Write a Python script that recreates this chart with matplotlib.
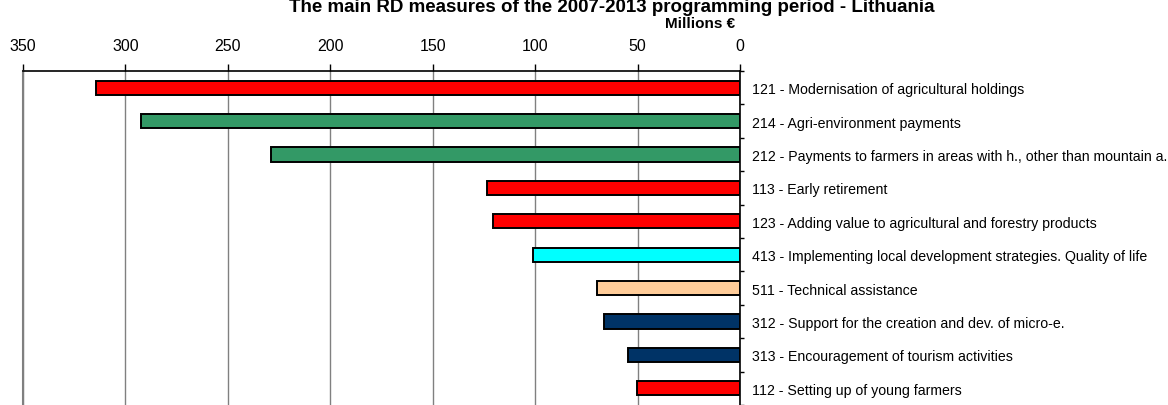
import matplotlib.pyplot as plt
import numpy as np

plt.rcParams['font.family'] = ['Liberation Sans', 'DejaVu Sans']

# measures, top to bottom
measures = [
    '121 - Modernisation of agricultural holdings',
    '214 - Agri-environment payments',
    '212 - Payments to farmers in areas with h., other than mountain a.',
    '113 - Early retirement',
    '123 - Adding value to agricultural and forestry products',
    '413 - Implementing local development strategies. Quality of life',
    '511 - Technical assistance',
    '312 - Support for the creation and dev. of micro-e.',
    '313 - Encouragement of tourism activities',
    '112 - Setting up of young farmers',
]
amounts = [314.3, 292.2, 229.0, 123.5, 120.7, 100.9, 69.9, 66.5, 54.8, 50.4]
bar_colors = ['#FF0000', '#339966', '#339966', '#FF0000', '#FF0000',
              '#00FFFF', '#FFCC99', '#003366', '#003366', '#FF0000']

fig = plt.figure(figsize=(11.68, 4.06), dpi=100)
ax = fig.add_axes([23 / 1168, 0, 717 / 1168, 334 / 406])

y = np.arange(len(measures))
ax.barh(y, amounts, height=0.43, color=bar_colors, edgecolor='black',
        linewidth=1.4, zorder=3)

# reversed x axis, values grow to the left
ax.set_xlim(350, 0)
ax.set_ylim(9.41, -0.5)

ax.xaxis.tick_top()
ax.set_xticks(np.arange(0, 351, 50))
ax.tick_params(axis='x', direction='out', length=5, width=1, pad=8,
               labelsize=11.5)
ax.grid(axis='x', color='#808080', linewidth=1, zorder=0)

# labels on the right, tick marks at category boundaries
ax.yaxis.tick_right()
ax.set_yticks(y)
ax.set_yticklabels(measures)
ax.tick_params(axis='y', which='major', length=0, pad=9, labelsize=10.2)
ax.set_yticks(np.arange(-0.5, 10, 1), minor=True)
ax.tick_params(axis='y', which='minor', length=3, width=1, direction='out')

ax.spines['bottom'].set_visible(False)
ax.spines['left'].set_color('#808080')
ax.spines['left'].set_linewidth(1.5)
ax.spines['top'].set_linewidth(1.2)
ax.spines['right'].set_linewidth(1.2)

fig.text(612 / 1168, 1 - 7 / 406,
         'The main RD measures of the 2007-2013 programming period - Lithuania',
         ha='center', va='center', fontsize=13.5, fontweight='bold')
fig.text(700 / 1168, 1 - 24 / 406, 'Millions €', ha='center', va='center',
         fontsize=11, fontweight='bold')

fig.savefig('out.png', dpi=100)
